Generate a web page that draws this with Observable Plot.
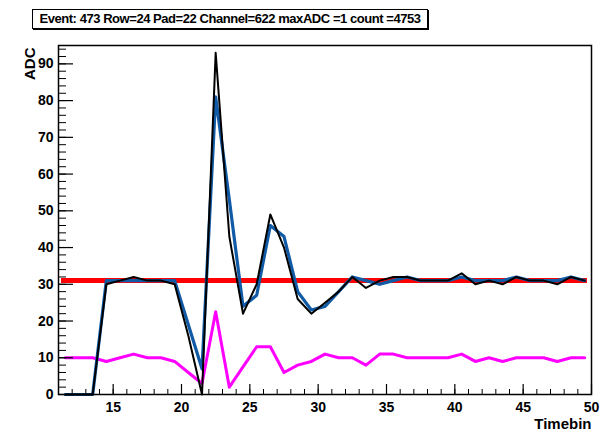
<!DOCTYPE html>
<html>
<head>
<meta charset="utf-8">
<script src="https://cdn.jsdelivr.net/npm/d3@7"></script>
<script src="https://cdn.jsdelivr.net/npm/@observablehq/plot@0.6"></script>
<style>
  html, body { margin: 0; padding: 0; background: #fff; }
  #wrap { position: relative; width: 600px; height: 430px; font-family: "Liberation Sans", Arial, sans-serif; }
  #title {
    position: absolute; left: 32px; top: 9px; width: 394px; height: 18px;
    border: 1px solid #000; box-shadow: 1px 1px 0 #000; background: #fff;
    font-weight: bold; font-size: 13px; line-height: 18px; text-align: center;
    letter-spacing: -0.45px; white-space: nowrap; z-index: 2;
  }
</style>
</head>
<body>
<div id="wrap">
  <div id="title">Event: 473 Row=24 Pad=22 Channel=622 maxADC =1 count =4753</div>
  <div id="chart"></div>
</div>
<script>
const timebins = [11.5,12.5,13.5,14.5,15.5,16.5,17.5,18.5,19.5,20.5,21.5,22.5,23.5,24.5,25.5,26.5,27.5,28.5,29.5,30.5,31.5,32.5,33.5,34.5,35.5,36.5,37.5,38.5,39.5,40.5,41.5,42.5,43.5,44.5,45.5,46.5,47.5,48.5,49.5];
const adcRaw = [0,0,0,30,31,32,31,31,30, 16,0,93,43,22,30,49,40,26,22, 25,28,32,29,31,32,32,31,31,31, 33,30,31,30,32,31,31,30,32,31];
const adcFit = [0,0,0,31,31,31,31,31,31, 19,7,81,53,24,27,46,43,28,23, 24,28,32,31,30,31,32,31,31,31, 32,31,31,31,32,31,31,31,32,31];
const adcLow = [10,10,10,9,10,11,10,10,9, 6,3,22.5,2,7.5,13,13,6,8,9, 11,10,10,8,11,11,10,10,10,10, 11,9,10,9,10,10,10,9,10,10];
const pedestal = 31;
const xTicks = [15,20,25,30,35,40,45,50];
const yTicks = [0,10,20,30,40,50,60,70,80,90];
const xMinor = d3.range(11, 51, 1);
const yMinor = d3.range(0, 96, 2);
const xTitle = "Timebin";
const yTitle = "ADC";

const rows = timebins.map((t, i) => ({t, raw: adcRaw[i], fit: adcFit[i], low: adcLow[i]}));

const W = 600, H = 430, mL = 58, mR = 9, mT = 45, mB = 36;
const innerW = W - mL - mR, innerH = H - mT - mB;

const chart = Plot.plot({
  width: W, height: H,
  marginLeft: mL, marginRight: mR, marginTop: mT, marginBottom: mB,
  x: {domain: [11, 50]},
  y: {domain: [0, 95]},
  style: {fontFamily: "'Liberation Sans', Arial, sans-serif", fontSize: "14px", fontWeight: "bold", background: "#fff"},
  marks: [
    Plot.ruleY([pedestal], {stroke: "#ff0000", strokeWidth: 5, insetLeft: 3, insetRight: 4}),
    Plot.line(rows, {x: "t", y: "low", stroke: "#ff00ff", strokeWidth: 3}),
    Plot.line(rows, {x: "t", y: "fit", stroke: "#105aa6", strokeWidth: 3.2}),
    Plot.line(rows, {x: "t", y: "raw", stroke: "#000", strokeWidth: 2}),
    Plot.tickX(xMinor, {x: d => d, insetTop: innerH - 5, stroke: "#000", strokeWidth: 1}),
    Plot.tickX(xTicks, {x: d => d, insetTop: innerH - 10, stroke: "#000", strokeWidth: 1.2}),
    Plot.tickY(yMinor, {y: d => d, insetRight: innerW - 8, stroke: "#000", strokeWidth: 1}),
    Plot.tickY(yTicks, {y: d => d, insetRight: innerW - 15, stroke: "#000", strokeWidth: 1.2}),
    Plot.frame({stroke: "#000", strokeWidth: 1.5}),
    Plot.axisX(xTicks, {tickSize: 0, tickPadding: 8, label: null, fontSize: 14, fontWeight: "bold"}),
    Plot.axisY(yTicks, {tickSize: 0, tickPadding: 5, label: null, fontSize: 14, fontWeight: "bold"}),
    Plot.text([xTitle], {frameAnchor: "bottom-right", text: d => d, textAnchor: "end", lineAnchor: "bottom", dy: 34, fontSize: 15, fontWeight: "bold"}),
    Plot.text([yTitle], {frameAnchor: "top-left", text: d => d, rotate: -90, textAnchor: "end", dx: -34, dy: 2, fontSize: 15, fontWeight: "bold"})
  ]
});
document.getElementById("chart").appendChild(chart);
</script>
</body>
</html>
